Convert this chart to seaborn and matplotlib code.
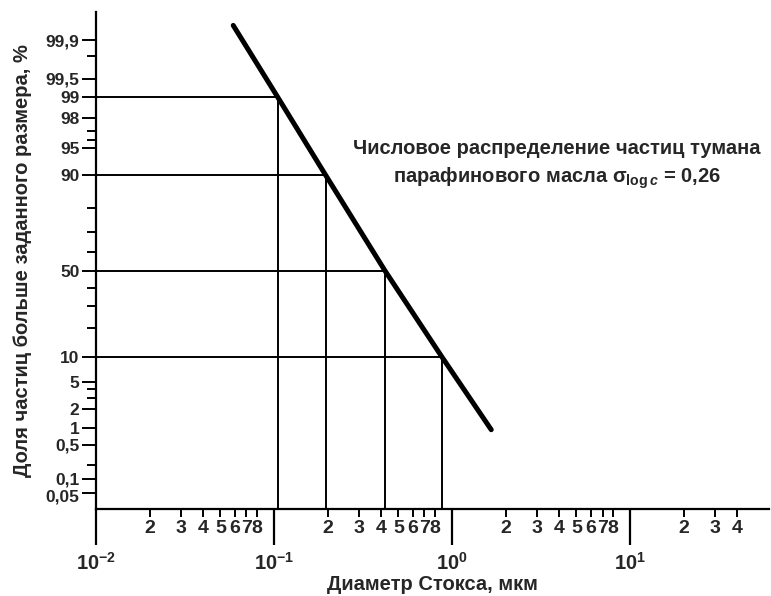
"""
Log-probability plot: number distribution of paraffin oil mist particles.
Saves out.png (771x596).
"""

from math import erf, sqrt

import matplotlib
matplotlib.use("Agg")
import matplotlib.pyplot as plt
import matplotlib.transforms as mtransforms
import numpy as np
import seaborn as sns

# ---------- data ----------
# diagonal (log-normal line) end points: diameter in um, share in %
LINE_D = [0.059, 0.105, 0.195, 0.42, 0.88, 1.66]
LINE_P = [99.95, 99, 90, 50, 10, 0.93]

# guide lines (read-off points on the diagonal)
GUIDE_D = [0.105, 0.195, 0.42, 0.88]
GUIDE_P = [99, 90, 50, 10]

# y axis (probability) ticks
Y_MAJOR = [0.05, 0.1, 0.5, 1, 2, 5, 10, 50, 90, 95, 98, 99, 99.5, 99.9]
Y_LABELS = ["0,05", "0,1", "0,5", "1", "2", "5", "10", "50", "90", "95",
            "98", "99", "99,5", "99,9"]
Y_MINOR = [0.2, 3, 4, 20, 30, 40, 60, 70, 80, 96, 97, 99.8]
Y_LIM = (0.021, 99.974)

# x axis (log) ticks
X_MAJOR = [0.01, 0.1, 1, 10]
X_LABELS = [r"$\mathregular{10^{-2}}$", r"$\mathregular{10^{-1}}$",
            r"$\mathregular{10^{0}}$", r"$\mathregular{10^{1}}$"]
X_MINOR = [m * 10.0 ** e for e in (-2, -1, 0) for m in range(2, 9)] + [20, 30, 40]
X_MINOR_LABELS = [str(m) for e in (-2, -1, 0) for m in range(2, 9)] + ["2", "3", "4"]
X_LIM = (0.01, 60.3)

TITLE = "Числовое распределение частиц тумана\n" \
        r"парафинового масла σ$_{\mathregular{log}\,\mathit{c}}$ = 0,26"

# ---------- probability scale (drawn a bit tighter below 50 %) ----------
Z_GRID = np.linspace(-5, 5, 20001)
P_GRID = np.array([50 * (1 + erf(z / sqrt(2))) for z in Z_GRID])
S_GRID = np.where(Z_GRID > 0, Z_GRID, Z_GRID * 0.906)


def prob_fwd(p):
    return np.interp(p, P_GRID, S_GRID)


def prob_inv(s):
    return np.interp(s, S_GRID, P_GRID)


def main():
    sns.set_theme(style="ticks")
    plt.rcParams["font.family"] = ["Liberation Sans", "DejaVu Sans"]
    plt.rcParams["font.weight"] = "bold"
    plt.rcParams["mathtext.fontset"] = "custom"
    plt.rcParams["mathtext.rm"] = "Liberation Sans:bold"
    plt.rcParams["mathtext.it"] = "Liberation Sans:italic:bold"
    plt.rcParams["mathtext.bf"] = "Liberation Sans:bold"
    plt.rcParams["mathtext.sf"] = "Liberation Sans:bold"

    fig = plt.figure(figsize=(7.71, 5.96), dpi=100)
    ax = fig.add_axes([96 / 771, 1 - 509 / 596, 673 / 771, 497 / 596])

    ax.set_xscale("log")
    ax.set_yscale("function", functions=(prob_fwd, prob_inv))
    ax.set_xlim(*X_LIM)
    ax.set_ylim(*Y_LIM)

    # guide lines
    ax.hlines(GUIDE_P, X_LIM[0], GUIDE_D, color="black", lw=1.4)
    ax.vlines(GUIDE_D, Y_LIM[0], GUIDE_P, color="black", lw=1.4)

    # the distribution line
    sns.lineplot(x=LINE_D, y=LINE_P, ax=ax, color="black", lw=3.6,
                 sort=False, estimator=None)

    # y ticks
    ax.set_yticks(Y_MAJOR)
    ax.set_yticklabels(Y_LABELS)
    ax.set_yticks(Y_MINOR, minor=True)
    ax.tick_params(axis="y", which="major", length=10, width=1.4, pad=2,
                   labelsize=12.5, color="black")
    ax.tick_params(axis="y", which="minor", length=6.5, width=1.4,
                   color="black")

    # the two lowest labels sit very close; nudge them apart a little
    ylabels = ax.get_yticklabels()
    for lab, dy in ((ylabels[0], -2), (ylabels[1], 1)):
        lab.set_transform(lab.get_transform() +
                          mtransforms.ScaledTranslation(0, dy / 72, fig.dpi_scale_trans))

    # x ticks
    ax.set_xticks(X_MAJOR)
    ax.set_xticklabels(X_LABELS)
    ax.set_xticks(X_MINOR, minor=True)
    ax.set_xticklabels(X_MINOR_LABELS, minor=True)
    ax.tick_params(axis="x", which="major", length=26, width=1.6, pad=5,
                   labelsize=14.5, color="black")
    ax.tick_params(axis="x", which="minor", length=6, width=1.4, pad=2,
                   labelsize=14, color="black")

    for side in ("top", "right"):
        ax.spines[side].set_visible(False)
    for side in ("left", "bottom"):
        ax.spines[side].set_linewidth(1.6)
        ax.spines[side].set_color("black")

    ax.set_xlabel("Диаметр Стокса, мкм", fontsize=14.5, fontweight="bold",
                  labelpad=1)
    ax.set_ylabel("Доля частиц больше заданного размера, %", fontsize=14.5,
                  fontweight="bold", labelpad=10)

    ax.text(0.685, 0.692, TITLE, transform=ax.transAxes, ha="center",
            va="center", fontsize=14.5, fontweight="bold", linespacing=1.45)

    fig.savefig("out.png", dpi=100)
    plt.close(fig)


if __name__ == "__main__":
    main()
